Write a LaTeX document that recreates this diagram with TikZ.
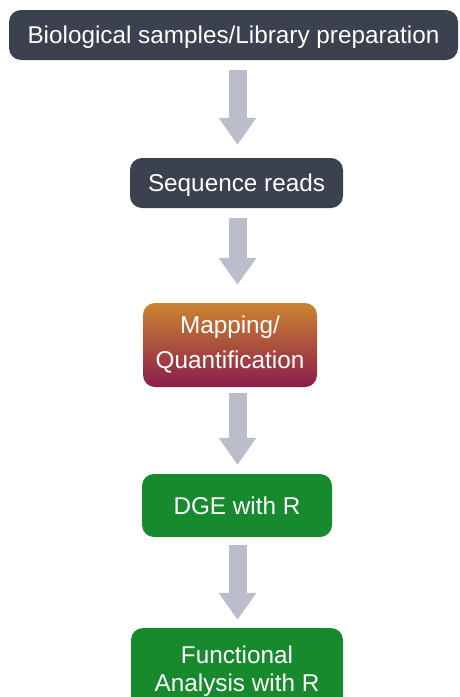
\documentclass[tikz,border=0pt]{standalone}
\usepackage{fontspec}
\setmainfont{Liberation Sans}
\usetikzlibrary{arrows.meta,calc}
\definecolor{darkbox}{HTML}{3C414F}
\definecolor{greenbox}{HTML}{178A2E}
\definecolor{orangetop}{HTML}{CC8331}
\definecolor{maroonbot}{HTML}{8A1E4B}
\definecolor{arrowgray}{HTML}{BCBDCB}
\tikzset{
  stepbox/.style={rounded corners=12pt, text=white, align=center, inner sep=0pt,
    font=\fontsize{24.3}{28}\selectfont, text height=17pt, text depth=0pt},
  darkstep/.style={stepbox, fill=darkbox},
  greenstep/.style={stepbox, fill=greenbox},
  gradstep/.style={stepbox, top color=orangetop, bottom color=maroonbot},
  blockarrow/.style={draw=arrowgray, line width=18pt,
    -{Triangle[width=36pt,length=27pt]}}
}
\begin{document}
\begin{tikzpicture}[x=1pt,y=-1pt]
\clip (0,0) rectangle (459,697);
\fill[white] (0,0) rectangle (459,697);
\node[darkstep, minimum width=449pt, minimum height=50pt] (b1) at (233.5,35) {Biological samples/Library preparation};
\node[darkstep, minimum width=213pt, minimum height=50pt] (b2) at (236.5,183) {Sequence reads};
\node[gradstep, minimum width=174pt, minimum height=84pt, text height=46pt,
  font=\fontsize{24.3}{35}\selectfont] (b3) at (230,345) {Mapping/\\Quantification};
\node[greenstep, minimum width=190pt, minimum height=63pt] (b4) at (237,505.5) {DGE with R};
\node[greenstep, minimum width=212pt, minimum height=84pt, text height=42pt] (b5) at (237,670) {Functional\\Analysis with R};
\coordinate (ax) at (237.5,0);
\draw[blockarrow] ([yshift=-10pt]b1.south -| ax) -- ([yshift=13pt]b2.north -| ax);
\draw[blockarrow] ([yshift=-10pt]b2.south -| ax) -- ([yshift=18pt]b3.north -| ax);
\draw[blockarrow] ([yshift=-6pt]b3.south -| ax) -- ([yshift=9pt]b4.north -| ax);
\draw[blockarrow] ([yshift=-8pt]b4.south -| ax) -- ([yshift=8pt]b5.north -| ax);
\end{tikzpicture}
\end{document}
